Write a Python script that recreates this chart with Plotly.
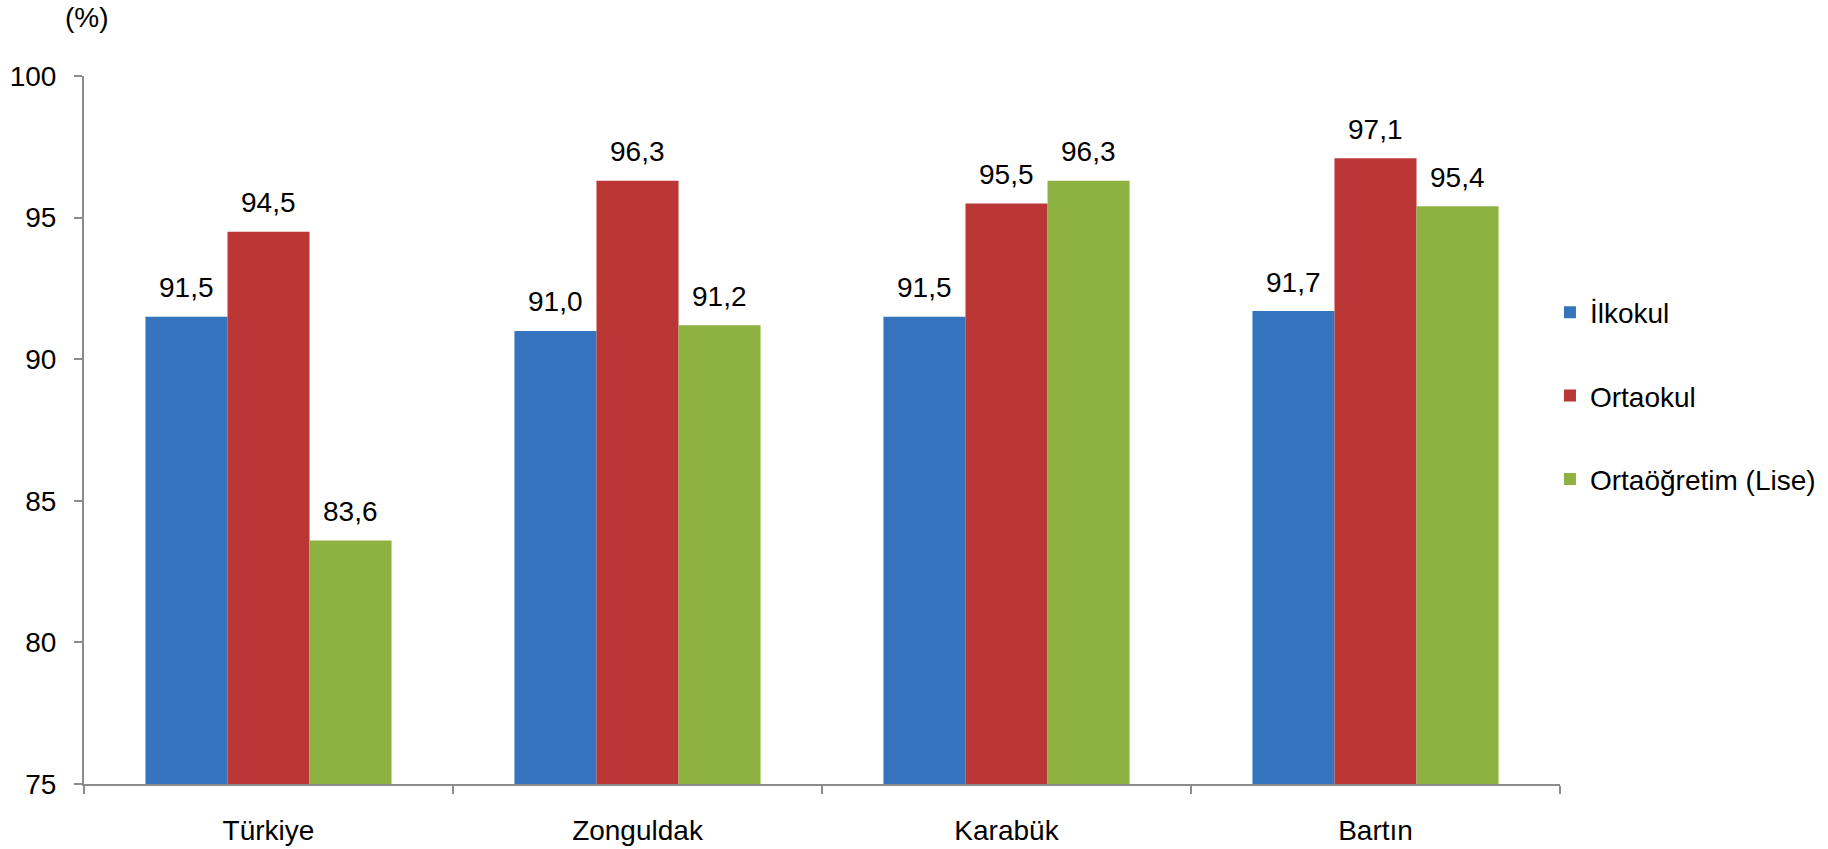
import plotly.graph_objects as go

categories = ["Türkiye", "Zonguldak", "Karabük", "Bartın"]
series_names = ["İlkokul", "Ortaokul", "Ortaöğretim (Lise)"]
ilkokul = [91.5, 91.0, 91.5, 91.7]
ortaokul = [94.5, 96.3, 95.5, 97.1]
ortaogretim = [83.6, 91.2, 96.3, 95.4]
y_ticks = [75, 80, 85, 90, 95, 100]

colors = ["#3574BD", "#BA3735", "#8DB241"]
FONT = "Liberation Sans, Arial, sans-serif"
FS = 28

W, H = 1828, 849
ML, MR, MT, MB = 84, 268, 76, 65
BARGAP = 0.333
plot_w = W - ML - MR
bar_px = plot_w / len(categories) * (1 - BARGAP) / len(series_names)

fig = go.Figure()
all_series = [ilkokul, ortaokul, ortaogretim]
for i, (name, vals) in enumerate(zip(series_names, all_series)):
    fig.add_trace(go.Bar(
        x=categories, y=vals, name=name, legendgroup=name,
        marker=dict(color=colors[i], line=dict(width=0)),
    ))
    for cat, v in zip(categories, vals):
        fig.add_annotation(x=cat, y=v, xref="x", yref="y",
                           text=f"{v:.1f}".replace(".", ","), showarrow=False,
                           xanchor="center", yanchor="middle",
                           xshift=(i - 1) * bar_px, yshift=29,
                           font=dict(size=FS, color="black", family=FONT))

fig.update_layout(
    width=W, height=H,
    margin=dict(l=ML, r=MR, t=MT, b=MB, autoexpand=False),
    paper_bgcolor="white", plot_bgcolor="white",
    barmode="group", bargap=BARGAP, bargroupgap=0,
    font=dict(family=FONT, size=FS, color="black"),
    showlegend=True,
    legend=dict(x=0.9932, y=0.548, xanchor="left", yanchor="middle",
                font=dict(size=FS, family=FONT), tracegroupgap=44,
                bgcolor="rgba(0,0,0,0)"),
)
fig.update_yaxes(range=[75, 100], tickvals=y_ticks, showgrid=False, zeroline=False,
                 showline=True, linecolor="#8C8C8C", linewidth=2,
                 ticks="outside", ticklen=8, tickcolor="#8C8C8C", tickwidth=2,
                 ticklabelstandoff=12, tickfont=dict(size=FS), automargin=False)
fig.update_xaxes(showgrid=False, showline=True, linecolor="#8C8C8C", linewidth=2,
                 ticks="outside", ticklen=8, tickcolor="#8C8C8C", tickwidth=2,
                 tickson="boundaries", ticklabelstandoff=20, tickfont=dict(size=FS),
                 automargin=False)
fig.add_annotation(text="(%)", xref="paper", yref="paper", x=0.0017, y=1.0,
                   xanchor="center", yanchor="middle", yshift=59, showarrow=False,
                   font=dict(size=FS, family=FONT))

fig.write_html("out.html", config={"displayModeBar": False},
               post_script="document.body.style.margin='0px';document.body.style.overflow='hidden';")
